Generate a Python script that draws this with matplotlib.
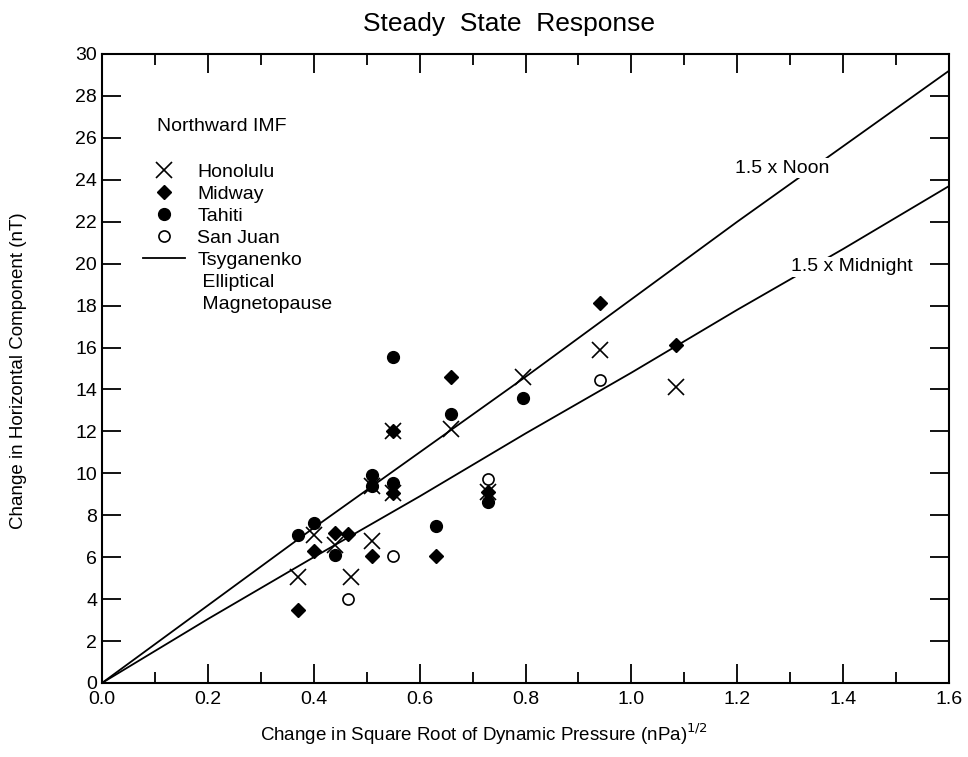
import numpy as np
import matplotlib.pyplot as plt
from matplotlib.lines import Line2D
from matplotlib.ticker import MultipleLocator, FormatStrFormatter

plt.rcParams['font.family'] = ['Liberation Sans', 'DejaVu Sans']

# Station observations (sqrt pressure change, delta H)
honolulu_x = [0.37, 0.40, 0.44, 0.47, 0.51, 0.51, 0.55, 0.55, 0.66, 0.73, 0.795, 0.94, 1.085]
honolulu_y = [5.05, 7.05, 6.6, 5.05, 6.75, 9.4, 12.0, 9.05, 12.1, 9.1, 14.6, 15.9, 14.1]

midway_x = [0.37, 0.40, 0.44, 0.465, 0.51, 0.55, 0.55, 0.63, 0.66, 0.73, 0.94, 1.085]
midway_y = [3.5, 6.3, 7.15, 7.1, 6.05, 12.0, 9.05, 6.05, 14.6, 9.1, 18.1, 16.1]

tahiti_x = [0.37, 0.40, 0.44, 0.51, 0.51, 0.55, 0.55, 0.63, 0.66, 0.73, 0.795]
tahiti_y = [7.05, 7.65, 6.1, 9.9, 9.4, 15.55, 9.55, 7.5, 12.85, 8.65, 13.6]

sanjuan_x = [0.465, 0.55, 0.73, 0.94]
sanjuan_y = [4.0, 6.05, 9.75, 14.45]

# Tsyganenko model curves
model_x = [0.0, 0.2, 0.4, 0.6, 0.8, 1.0, 1.2, 1.4, 1.6]
noon_y = [0.0, 3.7, 7.4, 11.0, 14.6, 18.3, 22.0, 25.6, 29.2]
midnight_y = [0.0, 3.05, 6.0, 8.9, 11.9, 14.8, 17.8, 20.7, 23.7]

fig = plt.figure(figsize=(9.68, 7.57), dpi=100)
ax = fig.add_axes([0.1054, 0.0978, 0.875, 0.8309])

ax.plot(model_x, noon_y, color='black', lw=1.3, zorder=2)
ax.plot(model_x, midnight_y, color='black', lw=1.3, zorder=2)

ax.plot(sanjuan_x, sanjuan_y, 'o', ms=8, mfc='white', mec='black', mew=1.2, zorder=3)
ax.plot(tahiti_x, tahiti_y, 'o', ms=8.5, color='black', zorder=4)
ax.plot(midway_x, midway_y, 'D', ms=7, color='black', zorder=4)
ax.plot(honolulu_x, honolulu_y, 'x', ms=11, color='black', mew=1.2, zorder=5)

ax.text(1.284, 24.56, '1.5 x Noon', fontsize=14, ha='center', va='center',
        bbox=dict(facecolor='white', edgecolor='none', pad=1), zorder=6)
ax.text(1.417, 19.84, '1.5 x Midnight', fontsize=14, ha='center', va='center',
        bbox=dict(facecolor='white', edgecolor='none', pad=1), zorder=6)

ax.text(0.065, 0.884, 'Northward IMF', transform=ax.transAxes, fontsize=14,
        ha='left', va='center')

handles = [
    Line2D([], [], marker='x', ls='none', color='black', ms=11, mew=1.2),
    Line2D([], [], marker='D', ls='none', color='black', ms=7),
    Line2D([], [], marker='o', ls='none', color='black', ms=8.5),
    Line2D([], [], marker='o', ls='none', mfc='white', mec='black', ms=8, mew=1.2),
    Line2D([], [], color='black', lw=1.3),
    Line2D([], [], ls='none'),
    Line2D([], [], ls='none'),
]
labels = ['Honolulu', 'Midway', 'Tahiti', 'San Juan', 'Tsyganenko', ' Elliptical', ' Magnetopause']
ax.legend(handles, labels, loc='upper left', bbox_to_anchor=(0.048, 0.826),
          frameon=False, fontsize=14, handlelength=2.2, handletextpad=0.6,
          labelspacing=0.225, borderpad=0, borderaxespad=0)

ax.set_xlim(0, 1.6)
ax.set_ylim(0, 30)
ax.xaxis.set_major_locator(MultipleLocator(0.2))
ax.xaxis.set_minor_locator(MultipleLocator(0.1))
ax.xaxis.set_major_formatter(FormatStrFormatter('%.1f'))
ax.yaxis.set_major_locator(MultipleLocator(2))
ax.tick_params(which='both', direction='in', top=True, right=True, labelsize=14, width=1.3)
ax.tick_params(which='major', length=14)
ax.tick_params(which='minor', length=8)
ax.tick_params(axis='x', pad=6)
for s in ax.spines.values():
    s.set_linewidth(1.5)

fig.text(0.526, 0.968, 'Steady  State  Response', fontsize=19, ha='center', va='center')
fig.text(0.5, 0.03, r'Change in Square Root of Dynamic Pressure (nPa)$^{1/2}$',
         fontsize=13.5, ha='center', va='center')
fig.text(0.019, 0.51, 'Change in Horizontal Component (nT)', fontsize=13.5,
         rotation=90, ha='center', va='center')

fig.savefig('out.png', dpi=100)
